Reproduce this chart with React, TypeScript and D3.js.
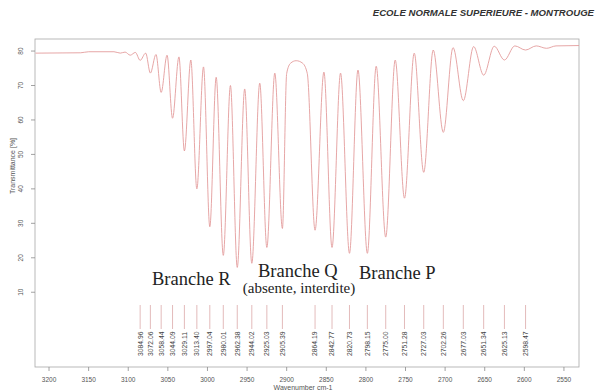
import React from 'react';
import * as d3 from 'd3';

// assigned lines (cm-1) and their transmittance at the bottom of each dip
const lineLabels = ['3084.96', '3072.06', '3058.44', '3044.09', '3029.11', '3013.40', '2997.04', '2980.01',
    '2962.38', '2944.02', '2925.03', '2905.39', '2864.19', '2842.77', '2820.73', '2798.15', '2775.00',
    '2751.28', '2727.03', '2702.26', '2677.03', '2651.34', '2625.13', '2598.47'];
const lineDepth = [77.3, 73.6, 68, 60.5, 51, 40, 29, 20.7, 17.2, 18.4, 23, 28.5,
    28, 23, 21.3, 21.3, 26, 37.3, 44.8, 56.4, 65.6, 73, 77.4, 80.3];

// weak lines without label
const weakWn = [3110, 3097.5, 2572];
const weakT = [79.4, 78.8, 80.8];

// maxima / baseline between the dips
const maxWn = [3217, 3160, 3150, 3118, 3104, 3091, 3078, 3065, 3051, 3036, 3021, 3005, 2989, 2971, 2953, 2934,
    2915, 2900, 2895, 2888, 2880, 2874, 2853, 2832, 2810, 2787, 2763, 2739, 2715, 2690, 2664, 2638, 2612, 2585,
    2560, 2531];
const maxT = [79.4, 79.5, 79.8, 79.8, 79.7, 79.6, 79.4, 79.0, 78.8, 78.3, 77.4, 75.4, 72.4, 70, 69, 70.7,
    73.6, 73.5, 76.5, 77.2, 76.5, 73.5, 73.9, 73.6, 74.5, 75.6, 77.4, 79.4, 80.3, 81, 81.3, 81.4, 81.5, 81.5,
    81.5, 81.6];

const xTicks = [3200, 3150, 3100, 3050, 3000, 2950, 2900, 2850, 2800, 2750, 2700, 2650, 2600, 2550];
const yTicks = [10, 20, 30, 40, 50, 60, 70, 80];

const W = 595;
const H = 392;
const box = { left: 35, right: 579, top: 39, bottom: 367 };

const App = () => {
    const x = d3.scaleLinear().domain([3217.7, 2531]).range([box.left, box.right]);
    const y = d3.scaleLinear().domain([-11.7, 83.5]).range([box.bottom, box.top]);

    const points: [number, number][] = [
        ...lineLabels.map((l, i) => [parseFloat(l), lineDepth[i]] as [number, number]),
        ...weakWn.map((w, i) => [w, weakT[i]] as [number, number]),
        ...maxWn.map((w, i) => [w, maxT[i]] as [number, number]),
    ].sort((a, b) => b[0] - a[0]);

    const line = d3.line<[number, number]>()
        .x(d => x(d[0]))
        .y(d => y(d[1]))
        .curve(d3.curveMonotoneX);

    const axisGrey = '#8a8a8a';
    const textGrey = '#555';

    return (
        <svg width={W} height={H} style={{ position: 'absolute', left: 0, top: 0, background: '#fff' }}
             fontFamily="'Liberation Sans', Arial, sans-serif">
            <text x={594} y={16} textAnchor="end" fontSize={9.6} fontWeight="bold" fontStyle="italic"
                  fill="#333">ECOLE NORMALE SUPERIEURE - MONTROUGE</text>

            <rect x={box.left} y={box.top} width={box.right - box.left} height={box.bottom - box.top}
                  fill="none" stroke="#a8a8a8" strokeWidth={0.8}/>

            {/* y axis */}
            {yTicks.map(t => (
                <g key={t}>
                    <line x1={box.left - 4} x2={box.left} y1={y(t)} y2={y(t)} stroke={axisGrey} strokeWidth={0.8}/>
                    <text transform={`translate(${box.left - 12},${y(t)}) rotate(-90)`} textAnchor="middle"
                          fontSize={6.5} fill={textGrey}>{t}</text>
                </g>
            ))}
            <text transform={`translate(15,166) rotate(-90)`} textAnchor="middle" fontSize={7}
                  fill={textGrey}>Transmittance [%]</text>

            {/* x axis */}
            {xTicks.map(t => (
                <g key={t}>
                    <line x1={x(t)} x2={x(t)} y1={box.bottom} y2={box.bottom + 4} stroke={axisGrey} strokeWidth={0.8}/>
                    <text x={x(t)} y={box.bottom + 15} textAnchor="middle" fontSize={6.5}
                          fill={textGrey}>{t}</text>
                </g>
            ))}
            <text x={303} y={390} textAnchor="middle" fontSize={7} fill={textGrey}>Wavenumber cm-1</text>

            {/* spectrum */}
            <path d={line(points) || ''} fill="none" stroke="#e39c9c" strokeWidth={0.9}/>

            {/* line markers */}
            {lineLabels.map(l => {
                const px = x(parseFloat(l));
                return (
                    <g key={l}>
                        <line x1={px} x2={px} y1={305} y2={329} stroke="#dcaaaa" strokeWidth={0.8}/>
                        <text transform={`translate(${px},356) rotate(-90)`} dy="0.35em" fontSize={6.8}
                              fill="#444">{l}</text>
                    </g>
                );
            })}

            {/* branch names */}
            <g fontFamily="'Liberation Serif', 'Times New Roman', serif" fill="#222">
                <text x={152} y={285} fontSize={18.5}>Branche R</text>
                <text x={258} y={277} fontSize={18.5}>Branche Q</text>
                <text x={299} y={293} textAnchor="middle" fontSize={15}>(absente, interdite)</text>
                <text x={359} y={279} fontSize={18.5}>Branche P</text>
            </g>
        </svg>
    );
};

export default App;
